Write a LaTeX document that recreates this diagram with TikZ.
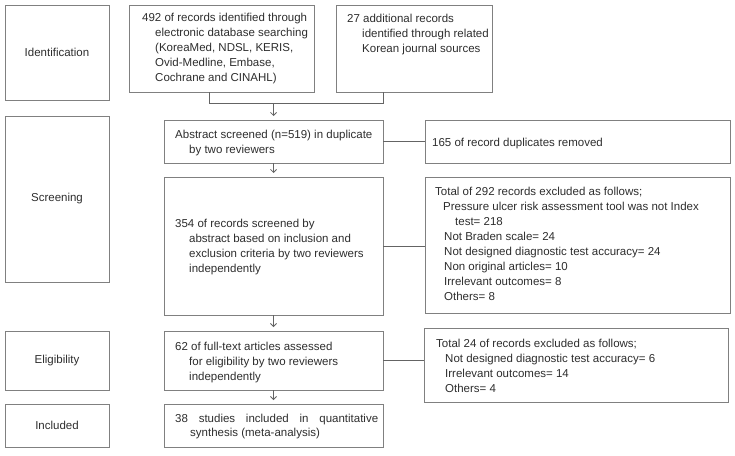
\documentclass[tikz,border=0pt]{standalone}
\usepackage{fontspec}
\setmainfont{Liberation Sans}
\usetikzlibrary{arrows.meta}
\definecolor{boxgray}{RGB}{128,128,128}
\definecolor{linegray}{RGB}{100,100,100}
\definecolor{textc}{RGB}{45,45,45}
\begin{document}
\begin{tikzpicture}[x=1pt,y=-1pt,
  box/.style={draw=boxgray, line width=0.8pt, inner sep=0pt, outer sep=0pt},
  txt/.style={inner sep=0pt, anchor=base west, align=left, font=\fontsize{11.5}{15}\selectfont, text=textc},
  lbl/.style={inner sep=0pt, font=\fontsize{11.5}{15}\selectfont, text=textc},
  conn/.style={draw=linegray, line width=0.8pt},
  arr/.style={conn, -{Straight Barb[length=3pt,width=6pt]}, shorten >=4pt}]
\useasboundingbox (0,0) rectangle (735,455);

% left column stage boxes
\node[box, minimum width=104pt, minimum height=95pt]  (id)  at (57,52.5)  {};
\node[box, minimum width=104pt, minimum height=166pt] (scr) at (57,199)   {};
\node[box, minimum width=104pt, minimum height=59pt]  (eli) at (57,360.5) {};
\node[box, minimum width=104pt, minimum height=43pt]  (inc) at (57,425.5) {};
\node[lbl] (tid)  at (id)  {Identification};
\node[lbl] (tscr) at (scr) {Screening};
\node[lbl] (teli) at (eli) {Eligibility};
\node[lbl] (tinc) at (inc) {Included};

% middle column
\node[box, minimum width=185pt, minimum height=87pt]  (rec492) at (221.5,48.5) {};
\node[box, minimum width=156pt, minimum height=87pt]  (rec27)  at (414,48.5)   {};
\node[box, minimum width=219pt, minimum height=43pt]  (abs)    at (273.5,141.5) {};
\node[box, minimum width=219pt, minimum height=138pt] (s354)   at (273.5,246)   {};
\node[box, minimum width=219pt, minimum height=59pt]  (ft62)   at (273.5,360.5) {};
\node[box, minimum width=219pt, minimum height=43pt]  (st38)   at (273.5,425.5) {};

% right column
\node[box, minimum width=305pt, minimum height=43pt]  (dup)   at (577.5,141.5) {};
\node[box, minimum width=305pt, minimum height=136pt] (ex292) at (577.5,245)   {};
\node[box, minimum width=304pt, minimum height=74pt]  (ex24)  at (576,365)     {};

% texts (anchor = baseline of last line)
\node[txt] (t492) at (142,81) {492 of records identified through\\
  \hspace*{13pt}electronic database searching\\
  \hspace*{13pt}(KoreaMed, NDSL, KERIS,\\
  \hspace*{13pt}Ovid-Medline, Embase,\\
  \hspace*{13pt}Cochrane and CINAHL)};
\node[txt] (t27) at (347,52) {27 additional records\\
  \hspace*{15pt}identified through related\\
  \hspace*{15pt}Korean journal sources};
\node[txt] (tabs) at (175,153) {Abstract screened (n=519) in duplicate\\
  \hspace*{14pt}by two reviewers};
\node[txt] (t354) at (175,272) {354 of records screened by\\
  \hspace*{14pt}abstract based on inclusion and\\
  \hspace*{14pt}exclusion criteria by two reviewers\\
  \hspace*{14pt}independently};
\node[txt] (t62) at (175,380) {62 of full-text articles assessed\\
  \hspace*{14pt}for eligibility by two reviewers\\
  \hspace*{14pt}independently};
\node[txt] (t38) at (175,436.5) {\makebox[203pt][s]{38 studies included in quantitative}\\[-0.5pt]
  \hspace*{15pt}synthesis (meta-analysis)};
\node[txt] (tdup) at (432,146) {165 of record duplicates removed};
\node[txt] (t292) at (435,300) {Total of 292 records excluded as follows;\\
  \hspace*{8pt}Pressure ulcer risk assessment tool was not Index\\
  \hspace*{20pt}test= 218\\
  \hspace*{9pt}Not Braden scale= 24\\
  \hspace*{9pt}Not designed diagnostic test accuracy= 24\\
  \hspace*{9pt}Non original articles= 10\\
  \hspace*{9pt}Irrelevant outcomes= 8\\
  \hspace*{9pt}Others= 8};
\node[txt] (t24) at (436,392) {Total 24 of records excluded as follows;\\
  \hspace*{9pt}Not designed diagnostic test accuracy= 6\\
  \hspace*{9pt}Irrelevant outcomes= 14\\
  \hspace*{9pt}Others= 4};

% connectors
\coordinate (j1) at (209,103);
\coordinate (j2) at (383,103);
\draw[conn] (rec492.south -| j1) -- (j1) -- (j2) -- (rec27.south -| j2);
\draw[arr] (abs.north |- j1) -- (abs.north);
\draw[arr] (abs) -- (s354);
\draw[arr] (s354) -- (ft62);
\draw[arr] (ft62) -- (st38);
\draw[conn] (abs.east) -- (abs.east -| dup.west);
\draw[conn] (s354.east) -- (s354.east -| ex292.west);
\draw[conn] (ft62.east) -- (ft62.east -| ex24.west);
\end{tikzpicture}
\end{document}
